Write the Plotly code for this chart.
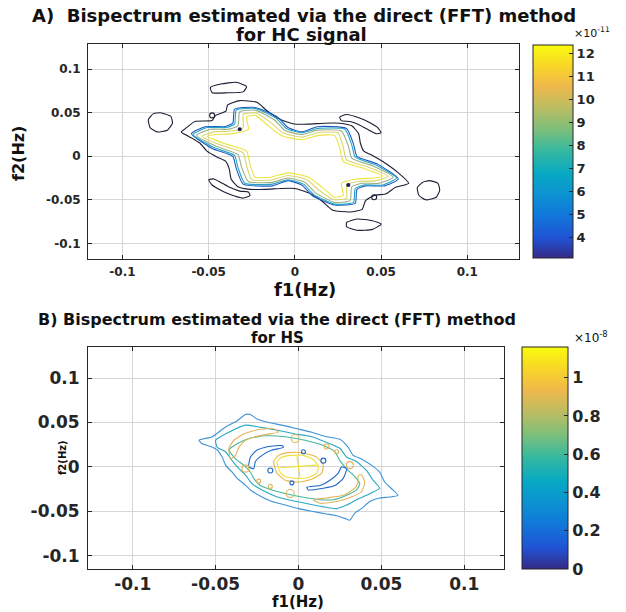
import plotly.graph_objects as go

W, H = 626, 612

# ---------------- data: panel A (HC signal), values in units of 1e-11 ----------------
A_TICKS = [-0.1, -0.05, 0, 0.05, 0.1]
A_TICKTEXT = ["-0.1", "-0.05", "0", "0.05", "0.1"]
A_CB_TICKS = [4, 5, 6, 7, 8, 9, 10, 11, 12]
A_CMIN, A_CMAX = 3.13, 12.35

# contour lines of panel A (level -> list of (f1, f2) points)
A_L12 = [(0.051,-0.023),(0.040,-0.014),(0.028,-0.006),(0.026,0.010),(0.023,0.024),(0.014,0.024),(0.004,0.019),
         (-0.008,0.024),(-0.016,0.036),(-0.023,0.047),(-0.028,0.045),(-0.027,0.031),(-0.036,0.026),(-0.046,0.025),
         (-0.051,0.023),(-0.040,0.014),(-0.028,0.006),(-0.026,-0.010),(-0.023,-0.024),(-0.014,-0.024),(-0.004,-0.019),
         (0.008,-0.024),(0.016,-0.036),(0.023,-0.047),(0.028,-0.045),(0.027,-0.031),(0.036,-0.026),(0.046,-0.025)]
A_L11 = [(0.054,-0.023),(0.042,-0.012),(0.030,-0.004),(0.028,0.011),(0.025,0.027),(0.013,0.027),(0.004,0.022),
         (-0.007,0.027),(-0.014,0.039),(-0.023,0.050),(-0.030,0.048),(-0.030,0.033),(-0.037,0.029),(-0.047,0.028),
         (-0.054,0.023),(-0.042,0.012),(-0.030,0.004),(-0.028,-0.011),(-0.025,-0.027),(-0.013,-0.027),(-0.004,-0.022),
         (0.007,-0.027),(0.014,-0.039),(0.023,-0.050),(0.030,-0.048),(0.030,-0.033),(0.037,-0.029),(0.047,-0.028)]
A_L9 = [(0.057,-0.024),(0.045,-0.011),(0.033,-0.002),(0.031,0.012),(0.027,0.029),(0.013,0.030),(0.004,0.025),
        (-0.006,0.030),(-0.012,0.042),(-0.023,0.053),(-0.032,0.051),(-0.033,0.035),(-0.039,0.031),(-0.049,0.031),
        (-0.057,0.024),(-0.045,0.011),(-0.033,0.002),(-0.031,-0.012),(-0.027,-0.029),(-0.013,-0.030),(-0.004,-0.025),
        (0.006,-0.030),(0.012,-0.042),(0.023,-0.053),(0.032,-0.051),(0.033,-0.035),(0.039,-0.031),(0.049,-0.031)]
A_L6 = [(0.059,-0.025),(0.047,-0.010),(0.035,-0.001),(0.033,0.013),(0.029,0.031),(0.013,0.032),(0.004,0.027),
        (-0.005,0.032),(-0.011,0.044),(-0.023,0.055),(-0.034,0.053),(-0.035,0.037),(-0.040,0.033),(-0.051,0.033),
        (-0.059,0.025),(-0.047,0.010),(-0.035,0.001),(-0.033,-0.013),(-0.029,-0.031),(-0.013,-0.032),(-0.004,-0.027),
        (0.005,-0.032),(0.011,-0.044),(0.023,-0.055),(0.034,-0.053),(0.035,-0.037),(0.040,-0.033),(0.051,-0.033)]
A_L5 = [(0.060,-0.026),(0.048,-0.009),(0.036,0.000),(0.034,0.014),(0.030,0.032),(0.013,0.034),(0.004,0.028),
        (-0.004,0.033),(-0.010,0.045),(-0.023,0.056),(-0.035,0.054),(-0.036,0.038),(-0.041,0.034),(-0.052,0.034),
        (-0.060,0.026),(-0.048,0.009),(-0.036,0.000),(-0.034,-0.014),(-0.030,-0.032),(-0.013,-0.034),(-0.004,-0.028),
        (0.004,-0.033),(0.010,-0.045),(0.023,-0.056),(0.035,-0.054),(0.036,-0.038),(0.041,-0.034),(0.052,-0.034)]
A_L35_MAIN = [(-0.064,0.031),(-0.058,0.040),(-0.048,0.041),(-0.046,0.047),(-0.040,0.052),(-0.039,0.059),(-0.032,0.064),
              (-0.022,0.062),(-0.016,0.052),(-0.008,0.042),(0.000,0.037),(0.008,0.037),(0.017,0.038),(0.026,0.038),
              (0.033,0.035),(0.037,0.026),(0.038,0.015),(0.040,0.006),(0.045,0.001),(0.051,-0.006),(0.060,-0.019),
              (0.066,-0.031),(0.058,-0.036),(0.053,-0.043),(0.046,-0.045),(0.041,-0.051),(0.039,-0.061),(0.032,-0.064),
              (0.022,-0.062),(0.016,-0.052),(0.008,-0.042),(0.000,-0.037),(-0.008,-0.037),(-0.017,-0.038),(-0.026,-0.038),
              (-0.033,-0.035),(-0.037,-0.026),(-0.038,-0.015),(-0.040,-0.006),(-0.045,-0.001),(-0.051,0.006),
              (-0.055,0.015),(-0.059,0.020),(-0.066,0.028)]
A_L35_TOP = [(-0.049,0.079),(-0.043,0.083),(-0.034,0.085),(-0.028,0.080),(-0.030,0.074),(-0.039,0.073),(-0.048,0.073)]
A_L35_BOTTOM = [(0.030,-0.076),(0.036,-0.072),(0.045,-0.074),(0.050,-0.078),(0.045,-0.084),(0.036,-0.085),(0.030,-0.081)]
A_L35_LEFT = [(-0.078,0.050),(-0.072,0.046),(-0.071,0.038),(-0.074,0.030),(-0.080,0.028),(-0.084,0.033),(-0.085,0.042),(-0.082,0.049)]
A_L35_RIGHT = [(0.078,-0.028),(0.083,-0.031),(0.084,-0.039),(0.082,-0.047),(0.076,-0.050),(0.072,-0.045),(0.071,-0.036),(0.074,-0.030)]
A_L35_UR = [(0.026,0.045),(0.030,0.048),(0.0375,0.044),(0.043,0.039),(0.048,0.033),(0.050,0.027),(0.047,0.026),
            (0.043,0.030),(0.0375,0.036),(0.032,0.040),(0.027,0.041)]
A_L35_LL = [(-0.026,-0.045),(-0.030,-0.048),(-0.0375,-0.044),(-0.043,-0.039),(-0.048,-0.033),(-0.050,-0.027),(-0.047,-0.026),
            (-0.043,-0.030),(-0.0375,-0.036),(-0.032,-0.040),(-0.027,-0.041)]
A_RINGS = [(-0.048,0.047),(0.046,-0.047)]
A_DOTS = [(-0.032,0.031),(0.031,-0.033)]

# ---------------- data: panel B (HS), values in units of 1e-8 ----------------
B_TICKS = [-0.1, -0.05, 0, 0.05, 0.1]
B_TICKTEXT = ["-0.1", "-0.05", "0", "0.05", "0.1"]
B_CB_TICKS = [0, 0.2, 0.4, 0.6, 0.8, 1.0]
B_CB_TEXT = ["0", "0.2", "0.4", "0.6", "0.8", "1"]
B_CMIN, B_CMAX = 0.0, 1.16

B_OUTER = [(-0.060,0.030),(-0.052,0.034),(-0.044,0.045),(-0.037,0.052),(-0.032,0.059),(-0.029,0.059),(-0.025,0.054),
           (-0.018,0.050),(-0.010,0.047),(-0.001,0.043),(0.008,0.039),(0.017,0.034),(0.025,0.031),(0.030,0.022),
           (0.033,0.013),(0.038,0.009),(0.044,0.002),(0.049,-0.006),(0.052,-0.017),(0.057,-0.026),(0.060,-0.032),
           (0.055,-0.034),(0.049,-0.035),(0.043,-0.039),(0.038,-0.047),(0.034,-0.052),(0.031,-0.060),(0.028,-0.058),
           (0.023,-0.055),(0.017,-0.053),(0.008,-0.050),(0.000,-0.047),(-0.008,-0.043),(-0.016,-0.039),(-0.022,-0.034),
           (-0.029,-0.026),(-0.033,-0.019),(-0.037,-0.013),(-0.040,-0.006),(-0.044,0.002),(-0.046,0.011),(-0.049,0.019),
           (-0.053,0.023),(-0.058,0.026)]
B_RING2 = [(-0.050,0.030),(-0.042,0.039),(-0.032,0.047),(-0.024,0.045),(-0.012,0.041),(-0.002,0.037),(0.008,0.034),
           (0.019,0.026),(0.025,0.021),(0.029,0.011),(0.035,0.006),(0.041,-0.004),(0.045,-0.015),(0.049,-0.024),
           (0.041,-0.032),(0.035,-0.037),(0.029,-0.043),(0.023,-0.047),(0.015,-0.045),(0.004,-0.041),(-0.006,-0.037),
           (-0.014,-0.033),(-0.022,-0.026),(-0.028,-0.019),(-0.032,-0.009),(-0.036,-0.002),(-0.040,0.007),(-0.044,0.017),
           (-0.049,0.022)]
B_RING3 = [(-0.042,0.019),(-0.037,0.026),(-0.030,0.032),(-0.020,0.035),(-0.008,0.034),(0.004,0.030),(0.015,0.024),
           (0.022,0.017),(0.025,0.007),(0.030,-0.004),(0.034,-0.011),(0.037,-0.019),(0.035,-0.026),(0.029,-0.032),
           (0.021,-0.037),(0.013,-0.037),(0.002,-0.034),(-0.008,-0.030),(-0.016,-0.026),(-0.023,-0.021),(-0.027,-0.013),
           (-0.029,-0.006),(-0.033,0.002),(-0.038,0.009)]
B_ORANGE_UL = [(-0.041,0.009),(-0.042,0.021),(-0.039,0.030),(-0.033,0.037),(-0.024,0.042),(-0.015,0.043),(-0.012,0.039),
               (-0.018,0.037),(-0.026,0.034),(-0.032,0.030),(-0.036,0.022),(-0.038,0.013)]
B_ORANGE_LR = [(0.038,-0.009),(0.040,-0.017),(0.038,-0.028),(0.032,-0.034),(0.023,-0.039),(0.013,-0.041),(0.009,-0.037),
               (0.017,-0.035),(0.027,-0.032),(0.034,-0.024),(0.036,-0.017),(0.036,-0.010)]
B_BLUE_UL = [(-0.030,0.000),(-0.029,0.011),(-0.025,0.019),(-0.018,0.023),(-0.010,0.024),(-0.009,0.022),(-0.016,0.019),
             (-0.022,0.013),(-0.026,0.006),(-0.027,-0.002)]
B_BLUE_LR = [(0.029,-0.002),(0.027,-0.013),(0.022,-0.021),(0.015,-0.024),(0.006,-0.026),(0.005,-0.023),(0.013,-0.021),
             (0.019,-0.015),(0.024,-0.007),(0.026,0.000)]
B_CENTER_ORANGE = [(-0.015,0.006),(-0.012,0.013),(-0.006,0.016),(0.002,0.016),(0.011,0.011),(0.015,0.002),(0.014,-0.007),
                   (0.008,-0.014),(0.000,-0.017),(-0.008,-0.015),(-0.013,-0.007)]
B_CENTER_YELLOW = [(-0.013,0.006),(-0.010,0.011),(-0.004,0.013),(0.003,0.013),(0.009,0.008),(0.012,0.001),(0.011,-0.007),
                   (0.006,-0.012),(-0.001,-0.013),(-0.008,-0.011),(-0.011,-0.006)]
B_CENTER_CROSS_X = [-0.011, 0.011, None, -0.001, 0.001]
B_CENTER_CROSS_Y = [-0.001, 0.002, None, 0.012, -0.012]
B_ORANGE_BLOBS = [(-0.002,0.032),(0.017,0.023),(0.023,0.017),(0.031,0.002),(-0.032,-0.002),(-0.024,-0.016),(-0.017,-0.022),(-0.005,-0.030)]
B_ORANGE_SIZES = [8, 5, 4, 7, 7, 4, 4, 8]
B_BLUE_BLOBS = [(0.015,0.007),(-0.017,-0.004),(0.003,0.017),(-0.004,-0.018)]
B_BLUE_SIZES = [5, 5, 4, 4]

# MATLAB parula colour map (sampled)
PARULA = [[0.0, "#352a87"], [0.095, "#2053d4"], [0.206, "#1079da"], [0.302, "#0c93d2"], [0.397, "#07a9c2"],
          [0.508, "#38b99e"], [0.603, "#7cbf7b"], [0.698, "#b7bd64"], [0.810, "#f1b94a"], [0.905, "#f7d826"],
          [1.0, "#f9fb0e"]]

FONT = "DejaVu Sans"
TXT = "#262626"

fig = go.Figure()


def loop(pts, color, xa, ya, width=1.1, close=True):
    xs = [p[0] for p in pts]
    ys = [p[1] for p in pts]
    if close:
        xs.append(xs[0]); ys.append(ys[0])
    fig.add_trace(go.Scatter(x=xs, y=ys, mode="lines", xaxis=xa, yaxis=ya,
                             line=dict(color=color, width=width, shape="spline", smoothing=0.5),
                             showlegend=False, hoverinfo="skip"))


def dots(pts, color, xa, ya, size, symbol):
    fig.add_trace(go.Scatter(x=[p[0] for p in pts], y=[p[1] for p in pts], mode="markers", xaxis=xa, yaxis=ya,
                             marker=dict(color=color, size=size, symbol=symbol, line=dict(color=color, width=1.1)),
                             showlegend=False, hoverinfo="skip", cliponaxis=True))


# ---- panel A lines ----
BLACK = "#1d1d35"
for pts in [A_L35_MAIN, A_L35_TOP, A_L35_BOTTOM, A_L35_LEFT, A_L35_RIGHT, A_L35_UR, A_L35_LL]:
    loop(pts, BLACK, "x", "y")
loop(A_L5, "#1f5bbf", "x", "y")
loop(A_L6, "#21a3c9", "x", "y")
loop(A_L9, "#9aae84", "x", "y")
loop(A_L11, "#d9d66a", "x", "y")
loop(A_L12, "#ece43a", "x", "y")
dots(A_RINGS, BLACK, "x", "y", 5, "circle-open")
dots(A_DOTS, "#1d1d50", "x", "y", 3, "circle")

# ---- panel B lines ----
loop(B_OUTER, "#3f93d8", "x2", "y2")
loop(B_RING2, "#2aa8c4", "x2", "y2")
loop(B_RING3, "#41b89c", "x2", "y2")
loop(B_ORANGE_UL, "#e2b45c", "x2", "y2")
loop(B_ORANGE_LR, "#e2b45c", "x2", "y2")
loop(B_BLUE_UL, "#1f68cc", "x2", "y2")
loop(B_BLUE_LR, "#1f68cc", "x2", "y2")
loop(B_CENTER_ORANGE, "#eab84a", "x2", "y2")
loop(B_CENTER_YELLOW, "#f0e034", "x2", "y2")
fig.add_trace(go.Scatter(x=B_CENTER_CROSS_X, y=B_CENTER_CROSS_Y, mode="lines", xaxis="x2", yaxis="y2",
                         line=dict(color="#f0e034", width=1.1), showlegend=False, hoverinfo="skip"))
for p, s in zip(B_ORANGE_BLOBS, B_ORANGE_SIZES):
    dots([p], "#e2b45c", "x2", "y2", s, "circle-open")
for p, s in zip(B_BLUE_BLOBS, B_BLUE_SIZES):
    dots([p], "#1f68cc", "x2", "y2", s, "circle-open")


# ---- colour bars (hidden marker traces) ----
def px_x(v):
    return v / W


def px_y(v):
    return 1 - v / H


fig.add_trace(go.Scatter(x=[1], y=[1], mode="markers", xaxis="x", yaxis="y", showlegend=False, hoverinfo="skip",
                         marker=dict(size=1, color=[A_CMIN], colorscale=PARULA, cmin=A_CMIN, cmax=A_CMAX,
                                     showscale=True,
                                     colorbar=dict(x=px_x(533), xanchor="left", y=px_y(258), yanchor="bottom",
                                                   len=(258 - 45) / H, lenmode="fraction", thickness=40,
                                                   thicknessmode="pixels", xpad=0, ypad=0,
                                                   outlinecolor=TXT, outlinewidth=1,
                                                   tickvals=A_CB_TICKS, ticktext=[str(t) for t in A_CB_TICKS],
                                                   ticks="inside", ticklen=4, tickcolor=TXT,
                                                   tickfont=dict(family=FONT, size=13, color=TXT, weight="bold"))),
                         cliponaxis=True))
fig.add_trace(go.Scatter(x=[1], y=[1], mode="markers", xaxis="x2", yaxis="y2", showlegend=False, hoverinfo="skip",
                         marker=dict(size=1, color=[B_CMIN], colorscale=PARULA, cmin=B_CMIN, cmax=B_CMAX,
                                     showscale=True,
                                     colorbar=dict(x=px_x(522), xanchor="left", y=px_y(569), yanchor="bottom",
                                                   len=(569 - 347) / H, lenmode="fraction", thickness=46,
                                                   thicknessmode="pixels", xpad=0, ypad=0,
                                                   outlinecolor=TXT, outlinewidth=1,
                                                   tickvals=B_CB_TICKS, ticktext=B_CB_TEXT,
                                                   ticks="inside", ticklen=4, tickcolor=TXT,
                                                   tickfont=dict(family=FONT, size=16, color=TXT, weight="bold"))),
                         cliponaxis=True))

axis_common = dict(showgrid=True, gridcolor="#d6d6d6", gridwidth=1, zeroline=False, showline=True,
                   linecolor=TXT, linewidth=1, mirror="allticks", ticks="inside", ticklen=4, tickcolor=TXT,
                   automargin=False)

fig.update_layout(
    width=W, height=H, autosize=False, margin=dict(l=0, r=0, t=0, b=0, autoexpand=False),
    paper_bgcolor="white", plot_bgcolor="white", showlegend=False,
    xaxis=dict(domain=[px_x(88), px_x(519)], range=[-0.12, 0.13], tickvals=A_TICKS, ticktext=A_TICKTEXT,
               tickfont=dict(family=FONT, size=12, color=TXT, weight="bold"), ticklabelstandoff=2,
               anchor="y", **axis_common),
    yaxis=dict(domain=[px_y(259), px_y(44)], range=[-0.118, 0.129], tickvals=A_TICKS, ticktext=A_TICKTEXT,
               tickfont=dict(family=FONT, size=12, color=TXT, weight="bold"), ticklabelstandoff=4,
               anchor="x", **axis_common),
    xaxis2=dict(domain=[px_x(88), px_x(504)], range=[-0.127, 0.124], tickvals=B_TICKS, ticktext=B_TICKTEXT,
                tickfont=dict(family=FONT, size=17, color=TXT, weight="bold"), ticklabelstandoff=0,
                anchor="y2", **axis_common),
    yaxis2=dict(domain=[px_y(569), px_y(347)], range=[-0.115, 0.135], tickvals=B_TICKS, ticktext=B_TICKTEXT,
                tickfont=dict(family=FONT, size=17, color=TXT, weight="bold"), ticklabelstandoff=4,
                anchor="x2", **axis_common),
)


def label(text, x, y, size, xanchor="center", angle=0, weight="bold"):
    fig.add_annotation(text=text, x=px_x(x), y=px_y(y), xref="paper", yref="paper", showarrow=False,
                       xanchor=xanchor, yanchor="middle", textangle=angle,
                       font=dict(family=FONT, size=size, color="#111111", weight=weight))


label("A)\u00a0 Bispectrum estimated via the direct (FFT) method", 304, 15, 18)
label("for HC signal", 301, 34, 18)
label("f1(Hz)", 305, 289, 18)
label("f2(Hz)", 18, 154, 16, angle=-90)
label("\u00d710<sup>-11</sup>", 572, 32, 11, xanchor="left", weight="normal")

label("B) Bispectrum estimated via the direct (FFT) method", 277, 319, 16)
label("for HS", 277, 338, 15)
label("f1(Hz)", 298, 602, 15)
label("f2(Hz)", 62, 458, 10, angle=-90)
label("\u00d710<sup>-8</sup>", 572, 337, 12, xanchor="left", weight="normal")

fig.write_html("out.html", config={"displayModeBar": False},
               post_script="document.body.style.margin='0px';")
